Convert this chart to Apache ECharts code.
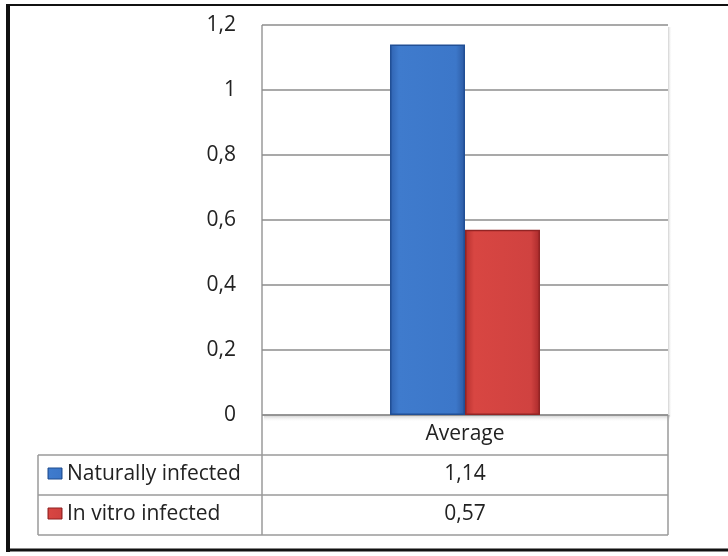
<!DOCTYPE html>
<html>
<head>
<meta charset="utf-8">
<script src="https://cdn.jsdelivr.net/npm/echarts@6/dist/echarts.min.js"></script>
<style>
  html, body { margin: 0; padding: 0; background: #fff; }
  #chart { width: 728px; height: 556px; }
</style>
</head>
<body>
<div id="chart"></div>
<script>
// Category and series values
const categories = ['Average'];
const seriesNames = ['Naturally infected', 'In vitro infected'];
const naturallyInfected = [1.14];
const inVitroInfected = [0.57];
const yTicks = { min: 0, max: 1.2, step: 0.2 };

const fmt = v => String(Math.round(v * 100) / 100).replace('.', ',');

// Plot frame geometry
const G = { left: 262, top: 25, width: 406, height: 390 };
const rowH = 40;
const tableLeft = 38;
const gx0 = G.left, gx1 = G.left + G.width, gy1 = G.top + G.height;
const FONT = '"Open Sans", "Noto Sans", sans-serif';
const FS = 21;

const blueGrad = new echarts.graphic.LinearGradient(0, 0, 1, 0, [
  { offset: 0, color: '#2f62b0' },
  { offset: 0.12, color: '#3f7bcd' },
  { offset: 0.88, color: '#3c77c9' },
  { offset: 1, color: '#2c5aa2' }
]);
const redGrad = new echarts.graphic.LinearGradient(0, 0, 1, 0, [
  { offset: 0, color: '#b5302e' },
  { offset: 0.12, color: '#d84642' },
  { offset: 0.88, color: '#d04240' },
  { offset: 1, color: '#a8292a' }
]);
const legendColors = [blueGrad, redGrad];
const legendBorders = ['#1f4d8f', '#8f2020'];
const seriesValues = [naturallyInfected, inVitroInfected];

// Data table below the plot, drawn as graphic elements
const lineStyle = { stroke: '#9a9a9a', lineWidth: 1.5 };
const graphics = [];
const hLine = (x1, x2, y) => graphics.push({ type: 'line', shape: { x1, y1: y, x2, y2: y }, style: lineStyle, silent: true });
const vLine = (x, y1, y2) => graphics.push({ type: 'line', shape: { x1: x, y1, x2: x, y2 }, style: lineStyle, silent: true });

// soft shadow along the right side and under the plot area
graphics.push({
  type: 'rect', shape: { x: gx1, y: G.top + 2, width: 4, height: G.height },
  style: { fill: new echarts.graphic.LinearGradient(0, 0, 1, 0, [{ offset: 0, color: '#d0d0d0' }, { offset: 1, color: 'rgba(255,255,255,0)' }]) },
  silent: true
});
graphics.push({
  type: 'rect', shape: { x: gx0 + 2, y: gy1, width: G.width, height: 7 },
  style: { fill: new echarts.graphic.LinearGradient(0, 0, 0, 1, [{ offset: 0, color: '#c8c8c8' }, { offset: 1, color: 'rgba(255,255,255,0)' }]) },
  silent: true
});

const rowTops = [gy1 + rowH, gy1 + 2 * rowH];
const tableBottom = gy1 + 3 * rowH;
vLine(gx0, G.top, tableBottom);
vLine(gx1, gy1, tableBottom);
vLine(tableLeft, rowTops[0], tableBottom);
hLine(gx0, gx1, gy1);
rowTops.forEach(y => hLine(tableLeft, gx1, y));
hLine(tableLeft, gx1, tableBottom);

seriesNames.forEach((name, i) => {
  const yc = rowTops[i] + rowH / 2 - 1;
  graphics.push({
    type: 'rect', shape: { x: 48, y: yc - 6, width: 14, height: 11 },
    style: { fill: legendColors[i], stroke: legendBorders[i], lineWidth: 1 }, silent: true
  });
  graphics.push({
    type: 'text', x: 67, y: yc,
    style: { text: name, font: FS + 'px ' + FONT, fill: '#222', verticalAlign: 'middle', textAlign: 'left' }, silent: true
  });
  graphics.push({
    type: 'text', x: (gx0 + gx1) / 2, y: yc,
    style: { text: fmt(seriesValues[i][0]), font: FS + 'px ' + FONT, fill: '#222', verticalAlign: 'middle', textAlign: 'center' }, silent: true
  });
});

// Outer frame
graphics.push({ type: 'line', shape: { x1: 6, y1: 5, x2: 728, y2: 5 }, style: { stroke: '#111', lineWidth: 2 }, silent: true });
graphics.push({ type: 'line', shape: { x1: 8, y1: 4, x2: 8, y2: 552 }, style: { stroke: '#111', lineWidth: 4 }, silent: true });
graphics.push({ type: 'line', shape: { x1: 6, y1: 550, x2: 728, y2: 550 }, style: { stroke: '#111', lineWidth: 3 }, silent: true });

const chart = echarts.init(document.getElementById('chart'), null, { renderer: 'canvas' });
chart.setOption({
  animation: false,
  backgroundColor: '#fff',
  grid: { left: G.left, top: G.top, width: G.width, height: G.height, containLabel: false },
  xAxis: {
    type: 'category',
    data: categories,
    axisLine: { show: false },
    axisTick: { show: false },
    axisLabel: { margin: 9, fontSize: FS, fontFamily: FONT, color: '#222' }
  },
  yAxis: {
    type: 'value',
    min: yTicks.min, max: yTicks.max, interval: yTicks.step,
    axisLine: { show: false },
    axisTick: { show: false },
    axisLabel: { margin: 26, fontSize: FS, fontFamily: FONT, color: '#222', formatter: v => fmt(v) },
    splitLine: { lineStyle: { color: '#8c8c8c', width: 1.5 } }
  },
  series: [
    {
      name: seriesNames[0], type: 'bar', data: naturallyInfected,
      barWidth: 75, barGap: '0%',
      itemStyle: { color: blueGrad, borderColor: '#214f95', borderWidth: 1.5 }
    },
    {
      name: seriesNames[1], type: 'bar', data: inVitroInfected,
      barWidth: 75, barGap: '0%',
      itemStyle: { color: redGrad, borderColor: '#922424', borderWidth: 1.5 }
    }
  ],
  graphic: graphics
});
</script>
</body>
</html>
